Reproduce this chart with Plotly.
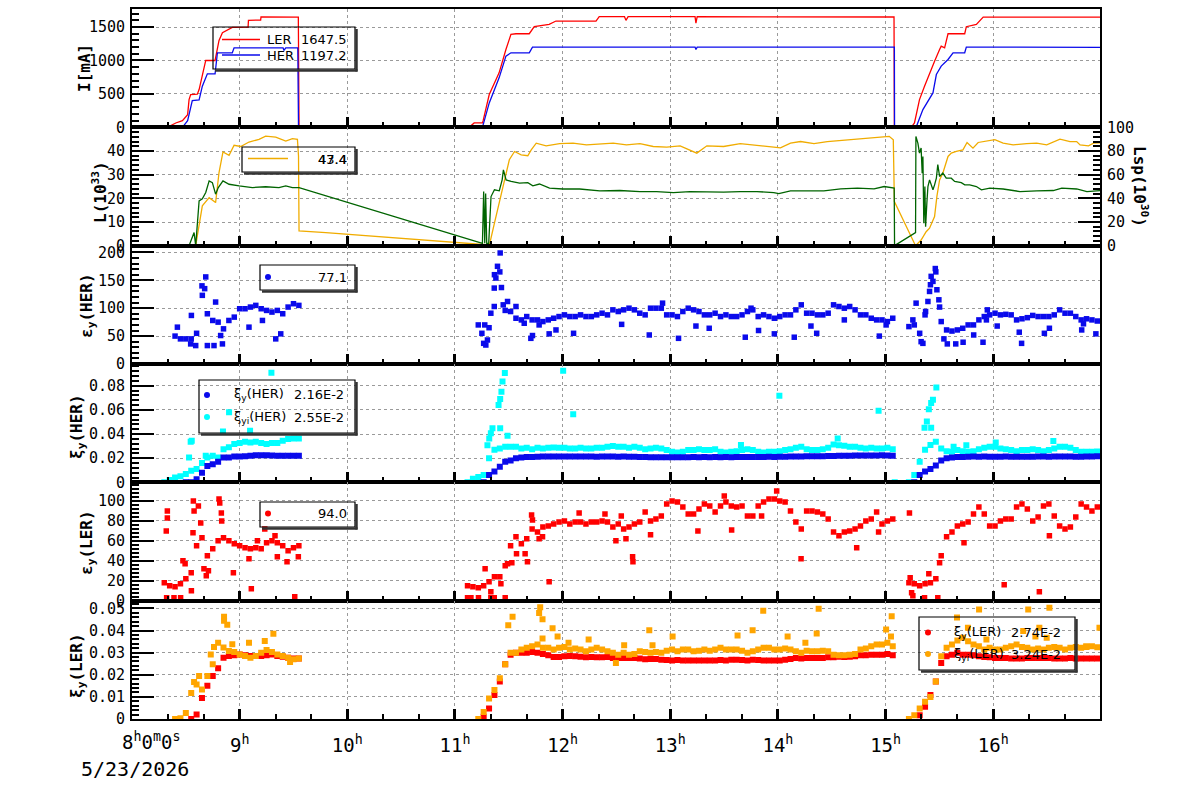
import plotly.graph_objects as go

# ---------------- time axis: minutes after 08:00 (5/23/2026) ----------------
hour_vals = [0, 60, 120, 180, 240, 300, 360, 420, 480]
hour_text = ["", "9<sup>h</sup>", "10<sup>h</sup>", "11<sup>h</sup>", "12<sup>h</sup>",
             "13<sup>h</sup>", "14<sup>h</sup>", "15<sup>h</sup>", "16<sup>h</sup>"]

# ---------------- panel 1 : beam currents I[mA] ----------------
ler_t = [0, 19.7, 24.4, 28.1, 31.0, 31.8, 32.7, 36.4, 37.4, 39.2, 41.1, 46.3, 48.5, 50.4, 55.9, 64.7, 64.9, 71.7, 71.9, 92.7, 92.8, 93.1,
         187.9, 190.7, 195.3, 195.7, 199.1, 204.6, 208.4, 211.2, 214.0, 221.4, 224.2, 232.5, 236.3, 258.6, 260.4, 274.5, 275.3, 276.5, 313.8, 314.3, 315.0, 424.7, 424.9,
         434.3, 436.1, 438.9, 441.7, 444.5, 447.3, 450.1, 451.0, 452.9, 454.8, 464.1, 465.0, 470.6, 474.4, 539.5]
ler_v = [0, 0, 65, 100, 190, 415, 490, 495, 565, 790, 1000, 1000, 1300, 1415, 1495, 1500, 1600, 1605, 1650, 1648, 600, 0,
         0, 66, 66, 100, 490, 815, 1165, 1390, 1400, 1400, 1505, 1540, 1590, 1590, 1655, 1655, 1600, 1655, 1655, 1560, 1655, 1650, 0,
         0, 66, 415, 615, 815, 990, 1165, 1215, 1190, 1400, 1400, 1505, 1540, 1648, 1648]
her_t = [0, 28.1, 31.0, 33.6, 37.4, 39.2, 42.0, 46.3, 47.6, 55.9, 56.9, 84.2, 84.7, 85.7, 92.4, 92.8,
         195.3, 199.1, 204.6, 208.4, 211.2, 221.4, 223.2, 313.8, 314.3, 315.0, 424.9, 425.0,
         437.0, 440.8, 446.4, 448.3, 451.0, 454.8, 457.6, 464.1, 465.0, 539.5]
her_v = [0, 0, 100, 400, 410, 615, 800, 800, 1115, 1115, 1190, 1190, 1150, 1190, 1190, 0,
         0, 365, 740, 1065, 1115, 1115, 1200, 1200, 1165, 1200, 1200, 0,
         0, 265, 515, 790, 915, 1015, 1115, 1115, 1200, 1197]

# ---------------- panel 2 : luminosity ----------------
lum_t = [35.5, 39.2, 43.0, 46.6, 48.5, 50.7, 54.1, 56.9, 60.6, 65.2, 70.8, 74.5, 80.1, 85.7, 89.4, 92.2, 92.8, 93.1, 108, 145, 180.5,
         199.2, 202.0, 204.7, 207.5, 210.3, 213.2, 216.9, 220.6, 222.5, 225.3, 230.8, 238.3, 245.8, 253.3, 260.7, 268.2, 275.6, 283.1, 290.5, 298.0,
         305.5, 314.8, 320.4, 329.7, 339.0, 348.3, 357.7, 361.4, 367.0, 372.6, 380.1, 387.5, 395.0, 402.4, 409.9, 417.4, 422.0, 424.3, 424.9,
         436.7, 439.8, 442.6, 444.5, 447.3, 448.6, 450.1, 451.9, 454.8, 456.6, 459.4, 463.1, 465.4, 468.7, 471.6, 476.2, 480.9, 485.5, 491.1, 498.6,
         504.2, 509.8, 517.2, 522.8, 526.5, 528.4, 533.1, 535.9, 539.5]
lum_v = [0, 16.8, 20.3, 18.2, 30.9, 39.6, 38.2, 42.4, 41.9, 43.8, 44.9, 46.3, 45.9, 44.2, 45.2, 44.9, 37.9, 6.2, 5.5, 3.4, 1.3,
         0.3, 9.5, 17.9, 27.8, 36.3, 39.8, 38.4, 38.0, 40.5, 43.3, 42.2, 43.1, 43.3, 42.6, 43.1, 43.3, 42.6, 43.1, 41.9, 41.6,
         42.2, 39.1, 42.2, 41.9, 43.1, 42.2, 41.6, 41.3, 43.3, 44.0, 43.1, 44.0, 44.5, 45.0, 45.4, 45.9, 46.2, 44.7, 18.6,
         0, 2.4, 5.9, 7.4, 12.3, 20.8, 27.8, 30.6, 37.7, 39.1, 39.8, 40.5, 43.6, 41.2, 43.6, 44.3, 44.8, 43.3, 42.6, 43.1,
         43.3, 42.6, 45.0, 44.0, 44.0, 42.6, 42.2, 43.3, 43.4]
lsp_t = [31.8, 34.6, 35.5, 37.4, 39.2, 41.1, 43.0, 44.8, 46.6, 48.1, 50.7, 54.1, 59.7, 67.1, 74.5, 81.9, 85.7, 89.4, 93.1,
         195.3, 196.0, 196.6, 197.1, 197.7, 198.8, 199.5, 200.1, 202.0, 204.7, 206.3, 207.0, 208.5, 211.3, 216.0, 220.6, 223.4, 227.1, 232.7, 240.2,
         249.5, 260.7, 271.9, 283.1, 292.4, 301.7, 311.0, 320.4, 329.7, 339.0, 348.3, 357.7, 360.5, 367.0, 376.3, 385.6, 395.0, 404.3, 413.6, 419.2, 424.8,
         425.0, 436.7, 436.9, 438.0, 438.9, 439.8, 440.4, 440.8, 441.3, 441.9, 442.3, 443.0, 443.6, 444.5, 446.4, 447.3, 448.3, 449.1, 450.1, 451.9,
         453.8, 456.6, 458.5, 462.2, 464.1, 466.9, 470.6, 473.4, 478.1, 485.5, 494.9, 504.2, 513.5, 518.2, 526.5, 532.2, 539.5]
lsp_v = [0, 11.1, 0, 37.8, 39.6, 44.9, 54.7, 53.3, 43.5, 49.1, 54.7, 51.9, 50.5, 49.1, 49.8, 49.1, 50.5, 49.1, 49.1,
         2, 45.7, 2, 44, 2, 2, 30.2, 41.5, 47.2, 46.4, 55.6, 64.1, 55.6, 54.3, 52.8, 53.3, 50.5, 52.1, 48.6, 47.9,
         47.9, 46.3, 46.6, 45.7, 45.7, 44.9, 45.7, 45.5, 45.2, 45.7, 45.7, 44.9, 44.0, 46.3, 46.6, 46.3, 48.0, 48.6, 48.0, 50.0, 48.6,
         0, 11, 92.3, 86.7, 78.2, 82.5, 61.3, 75.4, 19, 50, 16.1, 35.9, 50, 55.6, 47.2, 51.4, 57, 68.6, 58.5, 61.3,
         57, 57, 54.3, 53.3, 51.4, 51.4, 50, 47.2, 48.6, 47.9, 45.7, 46.3, 46.6, 48.6, 47.9, 45.7, 46.6]

# ---------------- sampled beam-size / beam-beam data ----------------
T1 = [18, 21, 24, 27, 30, 33, 36, 39, 42, 45, 48, 51, 54, 57, 60, 63, 66, 69, 72, 75, 78, 81, 84, 87, 90, 93]
T2 = [187, 190, 193, 196, 199, 202, 205, 208, 211, 214,
      217, 220, 223, 226, 229, 232, 235, 238, 241, 244,
      247, 250, 253, 256, 259, 262, 265, 268, 271, 274,
      277, 280, 283, 286, 289, 292, 295, 298, 301, 304,
      307, 310, 313, 316, 319, 322, 325, 328, 331, 334,
      337, 340, 343, 346, 349, 352, 355, 358, 361, 364,
      367, 370, 373, 376, 379, 382, 385, 388, 391, 394,
      397, 400, 403, 406, 409, 412, 415, 418, 421, 424]
T3 = [430, 433, 436, 439, 442, 445, 448, 451, 454, 457,
      460, 463, 466, 469, 472, 475, 478, 481, 484, 487,
      490, 493, 496, 499, 502, 505, 508, 511, 514, 517,
      520, 523, 526, 529, 532, 535, 538]

# eps_y(HER)
epsH1 = [None, None, 50, 45, 45, 45, 55, 140, 90, 78, 75, 63, 78, 84, 99, 99, 102, 105, 99, 96, 93, 96, 90, 102, 108, 105]
epsH2 = [None, None, 70, 37, 65, 160, 165, 96, 94, 82,
         79, 85, 79, 79, 76, 79, 82, 85, 88, 85,
         85, 88, 85, 85, 88, 91, 88, 97, 94, 97,
         100, 97, 91, 88, 100, 100, 100, 88, 88, 85,
         94, 100, 97, 94, 88, 88, 91, 85, 88, 85,
         85, 88, 94, 97, 85, 88, 85, 82, 85, 88,
         88, 97, 106, 91, 91, 88, 88, 91, 106, 103,
         100, 103, 97, 88, 88, 82, 79, 79, 76, 82]
epsH3 = [None, 67, 70, 55, 88, 142, 165, 76, 61, 59,
         61, 64, 70, 70, 79, 85, 88, 91, 88, 89,
         88, 79, 81, 83, 87, 85, 85, 85, 88, 97,
         91, 91, 85, 79, 81, 79, 77]
epsH_xt = [33.1, 46.6, 39.2, 41.1, 40.5, 42.0, 45.7, 50.4, 49.4, 65.2, 72.7, 80.1, 82.9, 25.3, 32.7, 35.5,
           196.6, 200.0, 201.9, 202.8, 203.7, 205.2, 205.9, 201.9, 206.9, 209.3, 214.0, 222.3, 223.2, 232.5, 236.3, 246.1,
           272.9, 288.3, 295.7, 304.6, 314.3, 321.7, 341.8, 349.2, 358.0, 369.1, 378.4, 381.6, 397.0, 416.5, 420.3, 345.0,
           226.9, 218.6, 197.2, 198.1, 195.0,
           435.2, 437.0, 439.8, 440.8, 442.3, 443.6, 444.5, 445.4, 446.4, 447.7, 448.6, 449.7, 450.1, 452.5, 454.4, 459.1,
           463.2, 469.1, 474.3, 476.2, 476.7, 482.2, 494.5, 495.8, 508.5, 511.3, 529.3, 530.3, 537.2]
epsH_xv = [87, 111, 123, 156, 135, 33, 33, 36, 51, 66, 78, 45, 54, 66, 36, 33,
           70, 91, 136, 154, 175, 199, 137, 103, 106, 112, 103, 46, 51, 54, 61, 55,
           71, 52, 109, 46, 68, 64, 48, 60, 54, 48, 68, 55, 79, 50, 70, 100,
           70, 73, 34, 43, 55,
           79, 109, 40, 37, 94, 112, 130, 157, 148, 171, 133, 115, 102, 45, 36, 36,
           39, 52, 39, 79, 97, 68, 57, 37, 55, 64, 61, 72, 54]

# xi_y(HER) and xi_yi(HER)
xiH1 = [None, None, None, None, 0, 0, 0.0025, 0.008, 0.0136, 0.015, 0.017, 0.0205, 0.0205, 0.0214, 0.0214, 0.0217,
        0.022, 0.0225, 0.0225, 0.0225, 0.0222, 0.022, 0.022, 0.022, 0.022, 0.022]
xiH2 = [None, None, None, 0.0, 0.006, 0.009, 0.013, 0.017, 0.018, 0.020,
        0.0205, 0.021, 0.021, 0.0212, 0.0213, 0.0214, 0.0214, 0.0214, 0.0213, 0.0214,
        0.0213, 0.0214, 0.0214, 0.0213, 0.0212, 0.0213, 0.0214, 0.0213, 0.0212, 0.0213,
        0.0212, 0.0211, 0.0210, 0.0209, 0.0208, 0.0208, 0.0207, 0.0208, 0.0207, 0.0208,
        0.0207, 0.0208, 0.0209, 0.0208, 0.0209, 0.0208, 0.0209, 0.0208, 0.0209, 0.0208,
        0.0209, 0.0210, 0.0209, 0.0210, 0.0209, 0.0210, 0.0211, 0.0210, 0.0211, 0.0212,
        0.0213, 0.0214, 0.0214, 0.0215, 0.0215, 0.0216, 0.0217, 0.0218, 0.0219, 0.0220,
        0.0221, 0.0221, 0.0222, 0.0222, 0.0223, 0.0222, 0.0223, 0.0224, 0.0223, 0.0220]
xiH3 = [None, None, 0.0, 0.006, 0.009, 0.011, 0.014, 0.018, 0.020, 0.0205,
        0.021, 0.021, 0.0212, 0.0213, 0.0212, 0.0213, 0.0212, 0.0211, 0.0212, 0.0213,
        0.0212, 0.0211, 0.0211, 0.0212, 0.0212, 0.0213, 0.0213, 0.0212, 0.0213, 0.0214,
        0.0213, 0.0213, 0.0212, 0.0212, 0.0213, 0.0214, 0.0216]
xiiH1 = [0, 0.002, 0.004, 0.005, 0.007, 0.0095, 0.011, 0.016, 0.0205, 0.022, 0.0205, 0.0275, 0.029, 0.0317, 0.0325, 0.0336,
         0.033, 0.0336, 0.0325, 0.0317, 0.0325, 0.0325, 0.0344, 0.0358, 0.0364, 0.0364]
xiiH2 = [0.0, 0.003, 0.0045, 0.006, 0.020, 0.027, 0.028, 0.0295, 0.0295, 0.0295,
         0.028, 0.0286, 0.0275, 0.0286, 0.0281, 0.0286, 0.0289, 0.0286, 0.0286, 0.0281,
         0.0281, 0.0286, 0.0281, 0.0281, 0.0286, 0.0286, 0.0294, 0.030, 0.0294, 0.0294,
         0.0286, 0.0294, 0.0286, 0.0275, 0.0281, 0.0286, 0.0281, 0.0267, 0.0253, 0.0247,
         0.0253, 0.0267, 0.0267, 0.0275, 0.0267, 0.0267, 0.0275, 0.0253, 0.0247, 0.0253,
         0.0258, 0.0267, 0.0275, 0.0267, 0.0253, 0.0247, 0.0253, 0.0253, 0.0258, 0.0267,
         0.0275, 0.0286, 0.0294, 0.0275, 0.0267, 0.0267, 0.0275, 0.0286, 0.0314, 0.0308,
         0.0303, 0.0294, 0.0294, 0.0286, 0.0281, 0.0286, 0.0281, 0.0281, 0.0286, 0.0275]
xiiH3 = [None, 0.0, 0.006, 0.017, 0.027, 0.031, 0.0336, 0.028, 0.0258, 0.0253,
         0.0267, 0.0258, 0.0253, 0.0258, 0.0275, 0.0286, 0.0294, 0.0294, 0.0281, 0.0275,
         0.0267, 0.0258, 0.0267, 0.0267, 0.0275, 0.0267, 0.0258, 0.0267, 0.0281, 0.0294,
         0.0294, 0.0286, 0.0267, 0.0253, 0.0253, 0.0253, 0.0255]
xiiH_xt = [32.7, 33.3, 31.8, 50.7, 54.1, 65.8, 77.7, 41.1,
           200.9, 200.0, 199.1, 198.1, 204.3, 205.2, 205.9, 206.5, 207.8, 205.2, 209.3, 240.3, 245.9, 360.8, 416.1, 339.4, 393.3, 425.1,
           441.7, 443.0, 444.1, 445.4, 446.4, 448.3, 445.4, 457.9, 465.0, 481.4, 513.5]
xiiH_xv = [0.0336, 0.0344, 0.0206, 0.042, 0.058, 0.0428, 0.0908, 0.022,
           0.0447, 0.0406, 0.0364, 0.0308, 0.064, 0.069, 0.075, 0.0836, 0.0906, 0.0447, 0.0386, 0.0925, 0.0564, 0.0717, 0.0592, 0.031, 0.0364, 0.0,
           0.0453, 0.0503, 0.0606, 0.0656, 0.0683, 0.0786, 0.0453, 0.0294, 0.0308, 0.033, 0.0342]

# eps_y(LER)
epsL1 = [18, 15, 14, 17, 22, 28, 55, 63, 45, 52, 60, 63, 60, 57, 55, 53, 52, 53, 52, 58, 60, 58, 55, 50, 53, 55]
epsL2 = [15, 14, 13, 15, 19, 24, 24, 35, 55, 64,
         57, 62, 72, 69, 74, 75, 77, 79, 80, 77,
         79, 79, 77, 79, 79, 80, 79, 74, 77, 72,
         74, 77, 79, 89, 80, 82, 85, 97, 100, 99,
         94, 87, 87, 92, 97, 95, 89, 95, 99, 95,
         94, 95, 85, 85, 95, 99, 102, 102, 100, 99,
         90, 79, 72, 90, 90, 89, 87, 82, 69, 65,
         69, 70, 72, 75, 80, 82, 89, 77, 80, 82]
epsL3 = [None, 18, 17, 15, 17, 18, 22, 45, 64, 69,
         75, 77, 79, 87, 94, 87, 75, 75, 80, 82,
         82, 94, 97, 92, 80, 84, 95, 97, 85, 75,
         72, 74, 84, 97, 94, 90, 94]
epsL_xt = [19.1, 19.7, 19.7, 19.3, 23.4, 27.1, 28.4, 29.6, 33.1, 34.0, 34.2, 34.6, 37.0, 38.3, 40.1, 41.4, 42.6,
           48.5, 48.9, 49.8, 50.0, 56.5, 66.5, 74.0, 79.7, 81.0, 86.4, 90.7, 92.7, 65.2, 69.9,
           187.0, 188.9, 193.1, 200.0, 201.9, 208.0, 196.8, 200.0, 205.6, 209.3, 211.7, 214.3, 219.1, 220.4, 222.7, 223.2,
           232.5, 249.2, 263.6, 272.7, 279.0, 279.2, 289.0, 315.4, 334.2, 372.9, 403.9, 416.1, 359.3, 330.1, 350.9, 269.7,
           275.3, 226.9, 228.8,
           433.7, 434.5, 435.2, 441.7, 449.1, 444.1, 450.1, 463.7, 486.1, 505.7, 511.3, 433.3]
epsL_xv = [70, 90, 83, 3, 3, 3, 40, 37, 10, 68, 100, 90, 95, 78, 32, 25, 30,
           102, 98, 88, 80, 28, 12, 72, 65, 44, 39, 4, 44, 42, 60,
           3, 3, 3, 3, 3, 3, 32, 9, 17, 37, 38, 47, 47, 39, 86, 81,
           19, 88, 87, 85, 44, 39, 66, 70, 71, 42, 53, 69, 110, 105, 85, 60,
           62, 62, 64,
           23, 8, 5, 3, 3, 27, 38, 58, 16, 9, 65, 88]

# xi_y(LER) and xi_yi(LER)
xiL1 = [None, None, None, None, None, 0, 0.002, 0.0095, 0.015, 0.0194, 0.023, 0.0277, 0.0285, 0.0288, 0.0292, 0.0288,
        0.0285, 0.0285, 0.0285, 0.0288, 0.0292, 0.0285, 0.0282, 0.0277, 0.0273, 0.0273]
xiL2 = [None, None, None, 0.001, 0.0047, 0.0108, 0.0169, 0.0248, 0.0291, 0.0299,
        0.0299, 0.0299, 0.0303, 0.0299, 0.0294, 0.0288, 0.028, 0.028, 0.0284, 0.0285,
        0.0284, 0.0282, 0.0279, 0.028, 0.0279, 0.0279, 0.028, 0.0276, 0.0276, 0.0276,
        0.0276, 0.0276, 0.0273, 0.027, 0.0271, 0.0271, 0.0268, 0.0267, 0.0264, 0.0267,
        0.0265, 0.0265, 0.0265, 0.0265, 0.0265, 0.0265, 0.0265, 0.0267, 0.0265, 0.0268,
        0.0268, 0.0267, 0.0265, 0.0268, 0.0267, 0.0265, 0.0265, 0.0264, 0.0265, 0.0268,
        0.0271, 0.0276, 0.0273, 0.0276, 0.0276, 0.0276, 0.0276, 0.0279, 0.0279, 0.0282,
        0.028, 0.0282, 0.0284, 0.0288, 0.0288, 0.0291, 0.0291, 0.0291, 0.0294, 0.0288]
xiL3 = [None, None, None, 0.0017, 0.0055, 0.0108, 0.0169, 0.0253, 0.0284, 0.0291,
        0.0299, 0.0291, 0.0291, 0.0288, 0.0284, 0.028, 0.0279, 0.0276, 0.0276, 0.0276,
        0.0273, 0.0273, 0.0273, 0.0276, 0.0276, 0.0276, 0.0276, 0.0276, 0.0274, 0.0274,
        0.0274, 0.0276, 0.0274, 0.0274, 0.0274, 0.0274, 0.0274]
xiiL1 = [None, None, 0, 0.0003, 0.0027, 0.0118, 0.0156, 0.0133, 0.0194, 0.0247, 0.0345, 0.0323, 0.0308, 0.0303, 0.0292,
         0.0285, 0.0277, 0.0285, 0.030, 0.0312, 0.0303, 0.0292, 0.0285, 0.0277, 0.027, 0.0273]
xiiL2 = [None, None, 0.0, 0.0032, 0.0093, 0.0131, 0.0184, 0.0248, 0.0299, 0.0299,
         0.0314, 0.0322, 0.0329, 0.0337, 0.0322, 0.0322, 0.0314, 0.0322, 0.0325, 0.0314,
         0.0319, 0.0314, 0.0306, 0.0314, 0.0322, 0.0314, 0.0306, 0.0299, 0.0291, 0.0299,
         0.0291, 0.0294, 0.0306, 0.0303, 0.0299, 0.0303, 0.0299, 0.0309, 0.0314, 0.0306,
         0.0314, 0.0314, 0.0306, 0.0309, 0.0314, 0.0309, 0.0314, 0.0322, 0.0314, 0.0314,
         0.0314, 0.0309, 0.0299, 0.0306, 0.0314, 0.0322, 0.0322, 0.0314, 0.0314, 0.0319,
         0.0314, 0.0306, 0.0299, 0.0309, 0.0306, 0.0306, 0.0309, 0.0306, 0.0291, 0.0288,
         0.0288, 0.0291, 0.0294, 0.0314, 0.0319, 0.0329, 0.0337, 0.0337, 0.0345, 0.0329]
xiiL3 = [None, 0.0, 0.0017, 0.0047, 0.0078, 0.010, 0.0169, 0.0284, 0.0322, 0.0337,
         0.0355, 0.0367, 0.0352, 0.0337, 0.0329, 0.0314, 0.0322, 0.0314, 0.0314, 0.0322,
         0.0329, 0.0337, 0.0325, 0.0322, 0.0314, 0.0319, 0.0314, 0.0322, 0.0325, 0.0322,
         0.0314, 0.0322, 0.0325, 0.0322, 0.0325, 0.0329, 0.0324]
xiiL_xt = [51.3, 51.3, 53.1, 55.9, 45.7, 43.9, 65.2, 74.0, 78.8, 88.1, 34.6, 37.4,
           209.7, 212.1, 226.9, 227.5, 228.8, 234.4, 237.2, 228.8, 254.5, 288.3, 301.3, 337.5, 345.9, 351.8, 365.4,
           381.6, 382.7, 420.3, 423.0, 423.4, 269.7, 375.3, 243.3, 274.3, 290.1,
           459.8, 472.1, 499.5, 511.3, 503.5, 465.9, 476.2, 496.7, 505.7, 509.8, 539.2, 531.8]
xiiL_xv = [0.0462, 0.0444, 0.0426, 0.0338, 0.0326, 0.0292, 0.0345, 0.0353, 0.0386, 0.0258, 0.0167, 0.0194,
           0.0424, 0.0462, 0.0479, 0.0505, 0.0451, 0.041, 0.0373, 0.0364, 0.036, 0.0401, 0.0373, 0.0378, 0.0401, 0.0489, 0.0373,
           0.0387, 0.0498, 0.0405, 0.0373, 0.0465, 0.0253, 0.0345, 0.0345, 0.0334, 0.0334,
           0.0459, 0.0495, 0.0495, 0.0503, 0.0373, 0.0413, 0.036, 0.0398, 0.0413, 0.0367, 0.0413, 0.0329]

# ---------------- colours ----------------
C_RED = "rgb(255,0,0)"
C_BLUE = "rgb(10,10,235)"
C_CYAN = "rgb(0,255,255)"
C_ORANGE = "rgb(255,165,0)"
C_GOLD = "rgb(240,172,0)"
C_GREEN = "rgb(0,100,0)"

T = T1 + T2 + T3

fig = go.Figure()


def markers(x, y, color, xa, ya, size):
    fig.add_trace(go.Scatter(x=x, y=y, mode="markers", xaxis=xa, yaxis=ya, showlegend=False,
                             marker=dict(symbol="square", size=size, color=color, line=dict(width=0)),
                             hoverinfo="skip"))


# panel 1
fig.add_trace(go.Scatter(x=ler_t, y=ler_v, mode="lines", line=dict(color=C_RED, width=1.3), xaxis="x", yaxis="y", showlegend=False))
fig.add_trace(go.Scatter(x=her_t, y=her_v, mode="lines", line=dict(color=C_BLUE, width=1.3), xaxis="x", yaxis="y", showlegend=False))
# panel 2
fig.add_trace(go.Scatter(x=lum_t, y=lum_v, mode="lines", line=dict(color=C_GOLD, width=1.3), xaxis="x2", yaxis="y2", showlegend=False))
fig.add_trace(go.Scatter(x=lsp_t, y=lsp_v, mode="lines", line=dict(color=C_GREEN, width=1.3), xaxis="x2", yaxis="y7", showlegend=False))
# panel 3
markers(T + epsH_xt, epsH1 + epsH2 + epsH3 + epsH_xv, C_BLUE, "x3", "y3", 5.5)
# panel 4
markers(T + xiiH_xt, xiiH1 + xiiH2 + xiiH3 + xiiH_xv, C_CYAN, "x4", "y4", 6)
markers(T, xiH1 + xiH2 + xiH3, C_BLUE, "x4", "y4", 6)
# panel 5
markers(T + epsL_xt, epsL1 + epsL2 + epsL3 + epsL_xv, C_RED, "x5", "y5", 5.5)
# panel 6
markers(T, xiL1 + xiL2 + xiL3, C_RED, "x6", "y6", 6)
markers(T + xiiL_xt, xiiL1 + xiiL2 + xiiL3 + xiiL_xv, C_ORANGE, "x6", "y6", 6)

# ---------------- axes ----------------
TICKFONT = dict(family="DejaVu Sans Mono", size=15, color="black")
GRID = dict(showgrid=True, gridcolor="#9a9a9a", griddash="dot", gridwidth=1)


def xax(k):
    d = dict(range=[0, 539.5], domain=[0, 1], anchor="y" if k == 1 else "y%d" % k,
             showline=True, linecolor="black", linewidth=2, mirror=True,
             ticks="inside", ticklen=10, tickwidth=2.5, tickcolor="black",
             tickmode="array", tickvals=hour_vals, ticktext=hour_text,
             zeroline=False, showticklabels=(k == 6), automargin=False,
             tickfont=dict(family="DejaVu Sans Mono", size=19, color="black"),
             ticklabelstandoff=8,
             minor=dict(ticks="inside", ticklen=5, tickwidth=1.5, tickcolor="black",
                        tickmode="linear", tick0=0, dtick=20, showgrid=False),
             **GRID)
    if k > 1:
        d["matches"] = "x"
    return d


def yax(k, rng, dtick, minor_dtick, **extra):
    d = dict(range=rng, domain=[1 - k / 6.0, 1 - (k - 1) / 6.0], anchor="x" if k == 1 else "x%d" % k,
             showline=True, linecolor="black", linewidth=2, mirror=True,
             ticks="inside", ticklen=22, tickwidth=2, tickcolor="black",
             tickmode="linear", tick0=0, dtick=dtick, automargin=False,
             zeroline=False, tickfont=TICKFONT, ticklabelstandoff=2,
             minor=dict(ticks="inside", ticklen=7, tickwidth=2, tickcolor="black",
                        tickmode="linear", tick0=0, dtick=minor_dtick, showgrid=False),
             **GRID)
    d.update(extra)
    return d


layout = dict(
    width=1200, height=798,
    margin=dict(l=132, r=100, t=9, b=79, autoexpand=False),
    paper_bgcolor="white", plot_bgcolor="white",
    showlegend=False,
)
for k in range(1, 7):
    layout["xaxis" if k == 1 else "xaxis%d" % k] = xax(k)
layout["yaxis"] = yax(1, [0, 1770], 500, 100)
layout["yaxis2"] = yax(2, [0, 50], 10, 2, tickmode="array", tickvals=[0, 10, 20, 30, 40])
layout["yaxis3"] = yax(3, [0, 212], 50, 10)
layout["yaxis4"] = yax(4, [0, 0.098], 0.02, 0.004)
layout["yaxis5"] = yax(5, [0, 118.7], 20, 4)
layout["yaxis6"] = yax(6, [0, 0.0535], 0.01, 0.002)
layout["yaxis7"] = dict(range=[0, 100], overlaying="y2", side="right", anchor="x2",
                        showline=True, linecolor="black", linewidth=2, automargin=False,
                        ticks="inside", ticklen=22, tickwidth=2, tickcolor="black",
                        tickmode="linear", tick0=0, dtick=20, showgrid=False, zeroline=False,
                        tickfont=TICKFONT, ticklabelstandoff=2,
                        minor=dict(ticks="inside", ticklen=7, tickwidth=2, tickcolor="black",
                                   tickmode="linear", tick0=0, dtick=4, showgrid=False))
fig.update_layout(**layout)


# ---------------- pixel helpers for legend boxes & labels ----------------
def px(x):
    return (x - 132) / 968.0


def py(y):
    return (719 - y) / 710.0


shapes = []
annos = []


def box(x0, y0, x1, y1):
    shapes.append(dict(type="rect", xref="paper", yref="paper", x0=px(x0), x1=px(x1), y0=py(y0), y1=py(y1),
                       line=dict(color="black", width=1.2), fillcolor="rgba(0,0,0,0)", layer="above"))
    shapes.append(dict(type="line", xref="paper", yref="paper", x0=px(x1 + 1.5), x1=px(x1 + 1.5), y0=py(y0 + 2), y1=py(y1 + 2.5),
                       line=dict(color="#333", width=2.5), layer="above"))
    shapes.append(dict(type="line", xref="paper", yref="paper", x0=px(x0 + 2), x1=px(x1 + 2.5), y0=py(y1 + 1.5), y1=py(y1 + 1.5),
                       line=dict(color="#333", width=2.5), layer="above"))


def seg(x0, x1, y, color):
    shapes.append(dict(type="line", xref="paper", yref="paper", x0=px(x0), x1=px(x1), y0=py(y), y1=py(y),
                       line=dict(color=color, width=1.3), layer="above"))


def dot(x, y, color, r=3):
    shapes.append(dict(type="circle", xref="paper", yref="paper", x0=px(x - r), x1=px(x + r), y0=py(y + r), y1=py(y - r),
                       line=dict(color=color, width=0), fillcolor=color, layer="above"))


LEGFONT = dict(family="DejaVu Sans", size=13, color="black")


def txt(x, y, s, anchor="left", font=LEGFONT, angle=0):
    annos.append(dict(xref="paper", yref="paper", x=px(x), y=py(y), text=s, showarrow=False,
                      xanchor=anchor, yanchor="middle", font=font, textangle=angle))


# panel 1 legend
box(213, 27, 355, 69)
seg(222, 260, 39.5, C_RED)
seg(222, 260, 55, C_BLUE)
txt(265, 39.5, "LER")
txt(265, 55, "HER")
txt(349, 39.5, "1647.5", "right")
txt(349, 55, "1197.2", "right")
# panel 2 legend
box(242, 147, 355, 172)
seg(248, 288, 158.5, C_GOLD)
txt(349, 159, "43.4", "right")
txt(349, 159, "47.4", "right")
# panel 3 legend
box(260, 265, 355, 290)
dot(268, 277, C_BLUE)
txt(349, 277, "77.1", "right")
# panel 4 legend
box(199, 380, 355, 433)
dot(207, 395, C_BLUE)
dot(207, 417, C_CYAN)
txt(232, 395, "ξ<sub>y</sub>(HER)")
txt(232, 417, "ξ<sub>yi</sub>(HER)")
txt(346, 395, "2.16E-2", "right")
txt(346, 417, "2.55E-2", "right")
# panel 5 legend
box(260, 502, 355, 527)
dot(268, 513.5, C_RED)
txt(349, 513.5, "94.0", "right")
# panel 6 legend
box(919, 617, 1075, 670)
dot(928, 632.5, C_RED)
dot(928, 654, C_ORANGE)
txt(952, 632.5, "ξ<sub>y</sub>(LER)")
txt(952, 654, "ξ<sub>yi</sub>(LER)")
txt(1063, 632.5, "2.74E-2", "right")
txt(1063, 654, "3.24E-2", "right")

# axis titles
TF = dict(family="DejaVu Sans Mono", size=16, color="black")
txt(84, 68, "<b>I[mA]</b>", "center", TF, -90)
txt(99, 192, "<b>L(10<sup>33</sup>)</b>", "center", TF, -90)
txt(87, 306, "<b>ε<sub>y</sub>(HER)</b>", "center", TF, -90)
txt(77, 427, "<b>ξ<sub>y</sub>(HER)</b>", "center", TF, -90)
txt(87, 543, "<b>ε<sub>y</sub>(LER)</b>", "center", TF, -90)
txt(77, 666, "<b>ξ<sub>y</sub>(LER)</b>", "center", TF, -90)
txt(1141, 186, "<b>Lsp(10<sup>30</sup>)</b>", "center", TF, 90)

# first time label and date
XF = dict(family="DejaVu Sans Mono", size=19, color="black")
txt(151, 741, "8<sup>h</sup>0<sup>m</sup>0<sup>s</sup>", "center", XF)
txt(135, 769, "5/23/2026", "center", dict(family="DejaVu Sans Mono", size=20, color="black"))

fig.update_layout(shapes=shapes, annotations=annos)
fig.write_html("out.html")
